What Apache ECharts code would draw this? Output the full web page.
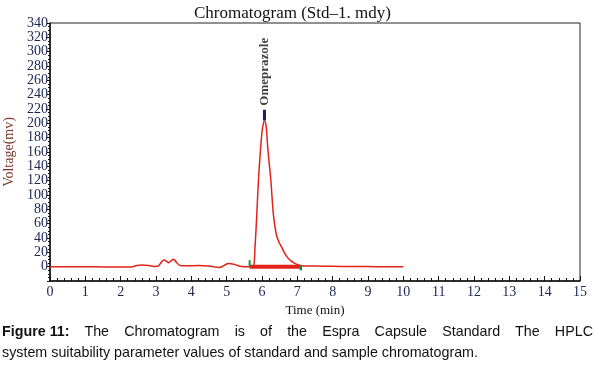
<!DOCTYPE html>
<html>
<head>
<meta charset="utf-8">
<script src="https://cdn.jsdelivr.net/npm/echarts@6/dist/echarts.min.js"></script>
<style>
  html, body { margin: 0; padding: 0; background: #fff; }
  #main { position: absolute; left: 0; top: 0; width: 600px; height: 369px; }
  .cap {
    position: absolute; left: 2px; width: 591px;
    font-family: 'Liberation Sans', Arial, sans-serif; font-size: 14.3px;
    line-height: 21px; color: #111; white-space: nowrap;
  }
  #cap1 { top: 321px; text-align: justify; text-align-last: justify; }
  #cap1 b { display: inline-block; }
  #cap2 { top: 342px; }
</style>
</head>
<body>
<div id="main"></div>
<div class="cap" id="cap1"><b>Figure 11:</b> The Chromatogram is of the Espra Capsule Standard The HPLC</div>
<div class="cap" id="cap2">system suitability parameter values of standard and sample chromatogram.</div>
<script>
// chromatogram trace (time in min, signal in mV)
const times = [0, 0.5, 1, 1.5, 2, 2.3, 2.45, 2.6, 2.8, 2.95, 3.05, 3.15, 3.22, 3.3, 3.36, 3.43, 3.5, 3.58, 3.68, 3.85, 4.2, 4.5, 4.65, 4.8, 4.92, 5.05, 5.2, 5.38, 5.5, 5.65, 5.76, 5.8, 5.85, 5.9, 5.95, 6.0, 6.05, 6.08, 6.12, 6.16, 6.2, 6.25, 6.32, 6.4, 6.48, 6.56, 6.64, 6.72, 6.82, 6.93, 7.05, 7.2, 7.5, 8, 8.5, 9, 9.5, 10]
const volts = [0, 0, 0, -0.3, -0.5, -0.3, 1.5, 2.3, 1.5, 0.3, 0.5, 6, 9.4, 7.5, 5.5, 8.5, 10.5, 6, 1.5, 1.2, 1.5, 1, -0.3, -1, 1.5, 4.5, 3.5, 0.5, 0, 0, 1, 25, 70, 121, 158, 188, 202, 203, 195, 168, 146, 121, 74, 46, 34, 27, 19, 13, 8, 4.6, 2, 1, 0.8, 0.5, 0.3, 0.1, 0, 0]

// integration baseline and peak markers
const baseLine = [[5.65, 0], [7.1, 0]]
const startTick = [[5.65, 0], [5.65, 9]]
const endTick = [[7.1, -5], [7.1, 1.5]]
const peakTime = 6.07
const peakMark = [[peakTime, 204], [peakTime, 219]]
const peakName = 'Omeprazole'

const xTicks = [0, 15, 1]     // min, max, interval
const yTicks = [-20, 340, 20]

const serif = "'Liberation Serif', 'Times New Roman', serif"
const chart = echarts.init(document.getElementById('main'))

chart.setOption({
  animation: false,
  title: {
    text: 'Chromatogram (Std\u20131. mdy)',
    left: 189,
    top: 0,
    textStyle: { fontFamily: serif, fontSize: 17, fontWeight: 'normal', color: '#111' },
  },
  grid: {
    left: 50,
    right: 20,
    top: 23,
    bottom: 88,
    outerBoundsMode: 'none',
    containLabel: false,
    show: true,
    borderColor: '#222',
    borderWidth: 1,
  },
  xAxis: {
    type: 'value',
    min: xTicks[0],
    max: xTicks[1],
    interval: xTicks[2],
    name: 'Time (min)',
    nameLocation: 'middle',
    nameGap: 19,
    nameTextStyle: { fontFamily: serif, fontSize: 13, color: '#111' },
    axisLine: { onZero: false, lineStyle: { color: '#111', width: 1.5 } },
    axisTick: { inside: true, length: 5, lineStyle: { color: '#111' } },
    minorTick: { show: true, splitNumber: 5, length: 3, lineStyle: { color: '#111' } },
    splitLine: { show: false },
    axisLabel: { margin: 4, fontFamily: serif, fontSize: 14, color: '#1c2450' },
  },
  yAxis: {
    type: 'value',
    min: yTicks[0],
    max: yTicks[1],
    interval: yTicks[2],
    name: 'Voltage(mv)',
    nameLocation: 'middle',
    nameGap: 31,
    nameTextStyle: { fontFamily: serif, fontSize: 14, color: '#7a3528' },
    axisLine: { onZero: false, lineStyle: { color: '#111', width: 1.5 } },
    axisTick: { length: 3, lineStyle: { color: '#111' } },
    minorTick: { show: true, splitNumber: 4, length: 2, lineStyle: { color: '#111' } },
    splitLine: { show: false },
    axisLabel: {
      margin: 2,
      fontFamily: serif,
      fontSize: 14,
      color: '#1c2450',
      formatter: v => (v < 0 ? '' : String(v)),
    },
  },
  series: [
    {
      name: 'signal',
      type: 'line',
      data: times.map((t, i) => [t, volts[i]]),
      showSymbol: false,
      smooth: 0.3,
      lineStyle: { color: '#e2231a', width: 1.5 },
      z: 3,
    },
    {
      name: 'baseline',
      type: 'line',
      data: baseLine,
      showSymbol: false,
      lineStyle: { color: '#e2231a', width: 4 },
      z: 4,
    },
    {
      name: 'start',
      type: 'line',
      data: startTick,
      showSymbol: false,
      lineStyle: { color: '#1a8a3a', width: 2 },
      z: 5,
    },
    {
      name: 'end',
      type: 'line',
      data: endTick,
      showSymbol: false,
      lineStyle: { color: '#1a8a3a', width: 2.5 },
      z: 5,
    },
    {
      name: 'peak',
      type: 'line',
      data: peakMark,
      showSymbol: false,
      lineStyle: { color: '#221a66', width: 3 },
      z: 5,
    },
    {
      name: 'peakLabel',
      type: 'scatter',
      data: [[peakTime, peakMark[1][1]]],
      symbolSize: 0,
      label: {
        show: true,
        formatter: peakName,
        rotate: 90,
        position: 'top',
        distance: 4,
        align: 'left',
        verticalAlign: 'middle',
        fontFamily: serif,
        fontWeight: 'bold',
        fontSize: 13,
        color: '#111',
      },
    },
  ],
})
</script>
</body>
</html>
